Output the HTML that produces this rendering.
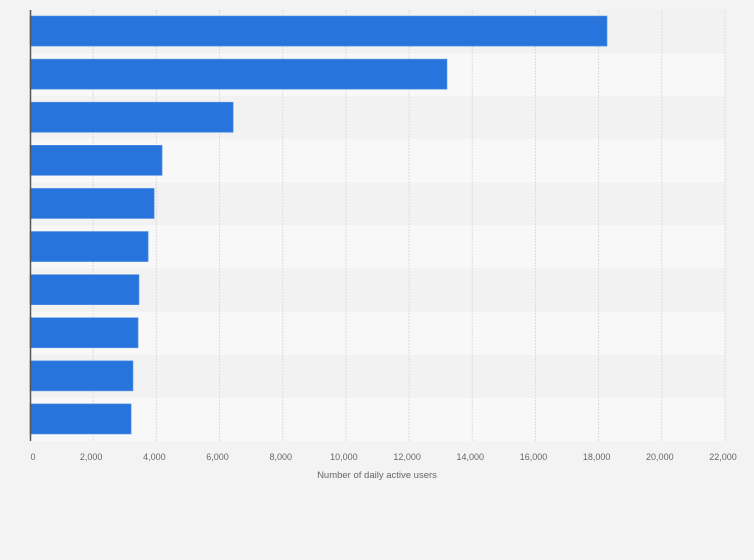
<!DOCTYPE html>
<html><head><meta charset="utf-8"><style>
body{margin:0;background:#f3f3f3;font-family:"Liberation Sans",sans-serif}
svg{display:block}
</style></head><body>
<svg id="chart" width="754" height="560" xmlns="http://www.w3.org/2000/svg">
<rect width="754" height="560" fill="#f3f3f3"/>
<g id="stripes"></g><g id="grid"></g><g id="bars"></g><g id="ticks"></g>
<line x1="30.5" y1="10" x2="30.5" y2="441" stroke="#555" stroke-width="1.5"/>
<text x="377" y="478" font-size="9.5" fill="#666" text-anchor="middle">Number of daily active users</text>
</svg>
<script>
const categories=["c1","c2","c3","c4","c5","c6","c7","c8","c9","c10"];
const values=[18265,13200,6430,4180,3930,3740,3450,3420,3260,3200];
const tickValues=[0,2000,4000,6000,8000,10000,12000,14000,16000,18000,20000,22000];
const tickLabels=["0","2,000","4,000","6,000","8,000","10,000","12,000","14,000","16,000","18,000","20,000","22,000"];
const NS="http://www.w3.org/2000/svg";
const x0=30,x1=725,yTop=10,yBottom=441,xmax=22000;
const xs=v=>x0+(x1-x0)*v/xmax;
const rowH=(yBottom-yTop)/categories.length;
function mk(t,a,p){const e=document.createElementNS(NS,t);for(const k in a)e.setAttribute(k,a[k]);p.appendChild(e);return e;}
const S=document.getElementById('stripes'),G=document.getElementById('grid'),B=document.getElementById('bars'),T=document.getElementById('ticks');
categories.forEach((c,i)=>{
 const r=mk('rect',{x:x0,y:yTop+i*rowH,width:x1-x0,height:rowH,fill:i%2?'#f8f8f8':'#f2f2f2'},S);
 
 
 const b=mk('rect',{x:x0,y:yTop+i*rowH+6,width:xs(values[i])-x0,height:rowH-13,fill:'#2775dc',stroke:'#5c95e4','stroke-width':0.6},B);
 
 
});
tickValues.forEach((v,i)=>{
 if(v>0){const l=mk('line',{x1:xs(v),x2:xs(v),y1:yTop,y2:yBottom,stroke:'#dcdcdc','stroke-dasharray':'2,1'},G);
 
 }
 const t=mk('text',{x:i==0?xs(v)+3:xs(v)-2,y:460,'font-size':9,fill:'#666','text-anchor':'middle'},T);
 t.textContent=tickLabels[i];
 
 
});
</script>
</body></html>
